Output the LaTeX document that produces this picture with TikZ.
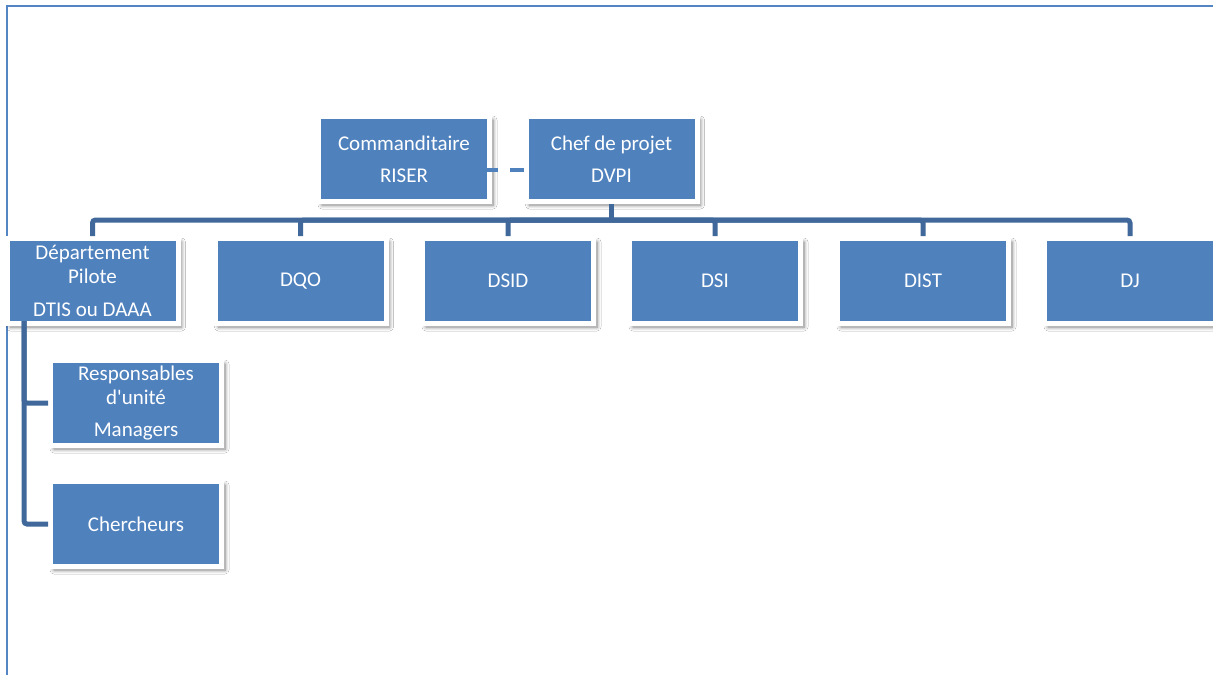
\documentclass[tikz,border=0pt]{standalone}
\usepackage{fontspec}
\setmainfont{Carlito}[Ligatures=TeXOff]
\usetikzlibrary{shadows.blur}
\definecolor{boxblue}{RGB}{79,129,189}
\definecolor{busblue}{RGB}{64,104,154}
\definecolor{framblue}{RGB}{84,133,195}
\tikzset{
  unit/.style={fill=boxblue, draw=white, line width=5pt, text=white,
    minimum width=171pt, minimum height=85pt, inner sep=0pt, align=center,
    font=\fontsize{21}{24}\selectfont,
    blur shadow={shadow xshift=3.5pt, shadow yshift=-3.5pt,
      shadow blur radius=4pt, shadow blur steps=8, shadow opacity=50}},
  bus/.style={busblue, line width=5pt, rounded corners=3pt},
  liaison/.style={boxblue, line width=4pt, dash pattern=on 15pt off 12pt},
  frame/.style={framblue, line width=2pt}
}
\begin{document}
\begin{tikzpicture}[x=1pt, y=-1pt]
  \clip (0,0) rectangle (1213,675);
  \fill[white] (0,0) rectangle (1213,675);
  % page frame
  \coordinate (fbl) at (7,675);
  \coordinate (ftl) at (7,6);
  \coordinate (ftr) at (1213,6);
  \draw[frame] (fbl) -- (ftl) -- (ftr);

  % sponsor and project lead
  \node[unit] (cmd) at (404,159) {Commanditaire\\[8pt]RISER};
  \node[unit] (chef) at (611.5,159) {Chef de projet\\[8pt]DVPI};

  % directorates
  \node[unit] (dp)   at (92.5,281) {Département\\Pilote\\[9pt]DTIS ou DAAA};
  \node[unit] (dqo)  at (300.5,281) {DQO};
  \node[unit] (dsid) at (508,281) {DSID};
  \node[unit] (dsi)  at (715,281) {DSI};
  \node[unit] (dist) at (923,281) {DIST};
  \node[unit] (dj)   at (1130,281) {DJ};

  % pilot department members
  \node[unit] (resp) at (136,403) {Responsables\\d'unité\\[8pt]Managers};
  \node[unit] (cher) at (136,524) {Chercheurs};

  % connectors
  \draw[liaison] ([xshift=-9.5pt, yshift=-11pt]cmd.east)
              -- ([yshift=-11pt]chef.west);
  \coordinate (hub) at (611.5,220);
  \draw[bus] (chef.south) -- (hub);
  \foreach \n in {dp,dqo,dsid,dsi,dist,dj}
    \draw[bus] (hub) -| (\n.north);
  \coordinate (spine) at (24,321);
  \draw[bus] (spine) |- (resp.west);
  \draw[bus] (spine) |- (cher.west);
\end{tikzpicture}
\end{document}
